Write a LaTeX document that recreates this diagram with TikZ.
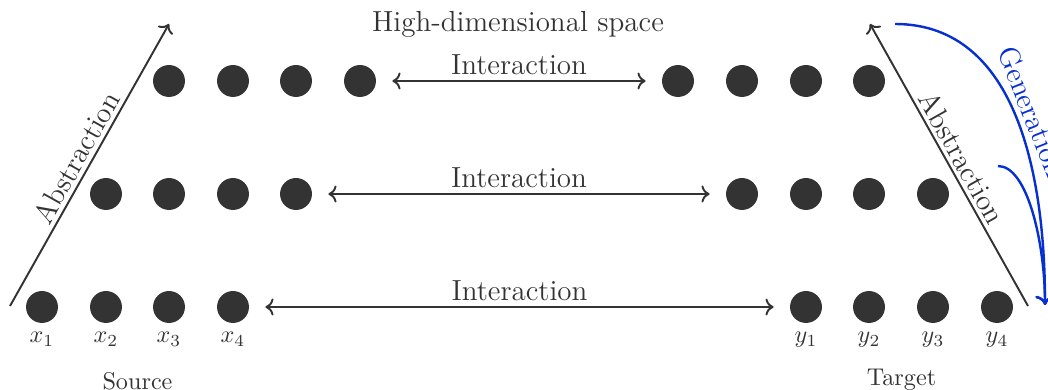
\documentclass[tikz,border=0pt]{standalone}
\usetikzlibrary{arrows.meta}
\definecolor{dk}{RGB}{51,51,51}
\definecolor{gen}{RGB}{8,48,208}
\begin{document}
\begin{tikzpicture}[x=0.41322pt,y=-0.41322pt,
  dot/.style={circle,fill=dk,inner sep=0pt,minimum size=13.2pt},
  every label/.style={text=dk},
  lbl/.style={text=dk,font=\large},
  conn/.style={draw=dk,line width=0.8pt,<->,shorten <=6.6pt,shorten >=6.6pt},
  absarrow/.style={draw=dk,line width=0.8pt,->},
  genarrow/.style={draw=gen,line width=1pt,->}]
\useasboundingbox (0,0) rectangle (1048,390);
\clip (0,0) rectangle (1048,390);

% bottom row
\node[dot,label=below:$x_1$] (s11) at (42,307) {};
\node[dot,label=below:$x_2$] (s12) at (106,307) {};
\node[dot,label=below:$x_3$] (s13) at (169,307) {};
\node[dot,label=below:$x_4$] (s14) at (233,307) {};
\node[dot,label=below:$y_1$] (t11) at (806,307) {};
\node[dot,label=below:$y_2$] (t12) at (869,307) {};
\node[dot,label=below:$y_3$] (t13) at (933,307) {};
\node[dot,label=below:$y_4$] (t14) at (997,307) {};
% middle row
\node[dot] (s21) at (106,194) {};
\node[dot] (s22) at (169,194) {};
\node[dot] (s23) at (233,194) {};
\node[dot] (s24) at (296,194) {};
\node[dot] (t21) at (742,194) {};
\node[dot] (t22) at (806,194) {};
\node[dot] (t23) at (869,194) {};
\node[dot] (t24) at (933,194) {};
% top row
\node[dot] (s31) at (169,81) {};
\node[dot] (s32) at (233,81) {};
\node[dot] (s33) at (296,81) {};
\node[dot] (s34) at (360,81) {};
\node[dot] (t31) at (678,81) {};
\node[dot] (t32) at (742,81) {};
\node[dot] (t33) at (806,81) {};
\node[dot] (t34) at (869,81) {};

% interactions
\draw[conn] (s14) -- node[lbl,above,inner sep=2pt]{Interaction} (t11);
\draw[conn] (s24) -- node[lbl,above,inner sep=2pt]{Interaction} (t21);
\draw[conn] (s34) -- node[lbl,above,inner sep=2pt]{Interaction} (t31);

% titles
\node[lbl] (hd) at (518,24) {High-dimensional space};
\node[text=dk] (src) at (137.5,381) {Source};
\node[text=dk] (tgt) at (901.5,380) {Target};

% abstraction arrows
\coordinate (la) at (10,306);
\coordinate (lb) at (169,24);
\draw[absarrow] (la) -- node[lbl,sloped,above,inner sep=1.5pt]{Abstraction} (lb);
\coordinate (ra) at (1028,306);
\coordinate (rb) at (870,24);
\draw[absarrow] (ra) -- node[lbl,sloped,above,inner sep=1.5pt]{Abstraction} (rb);

% generation arrows
\coordinate (g1) at (895,24);
\coordinate (g2) at (998,166);
\coordinate (ge) at (1045,305);
\draw[genarrow] (g1) .. controls +(124,0) and +(0,-124) .. node[lbl,sloped,above,text=gen,inner sep=2pt]{Generation} (ge);
\draw[genarrow] (g2) .. controls +(30,0) and +(0,-60) .. (ge);
\end{tikzpicture}
\end{document}
